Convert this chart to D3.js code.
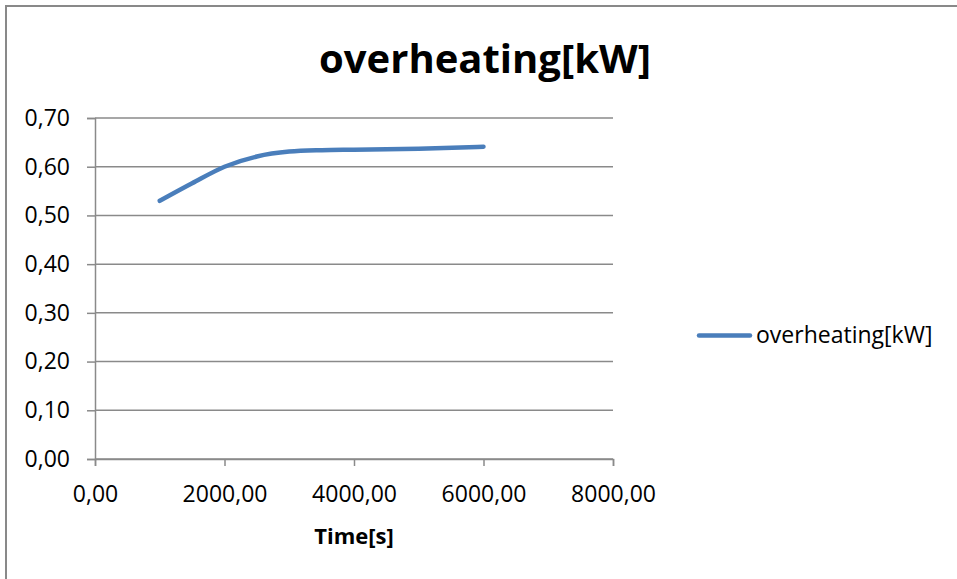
<!DOCTYPE html>
<html><head><meta charset="utf-8">
<script src="https://cdn.jsdelivr.net/npm/d3@7"></script>
<style>html,body{margin:0;padding:0;background:#fff;}svg{display:block;}</style>
</head><body>
<svg id="chart" width="957" height="579"></svg>
<script>
const times = [1000, 1500, 2000, 2500, 3000, 3500, 4000, 5000, 6000];
const overheating = [0.53, 0.566, 0.60, 0.621, 0.631, 0.634, 0.635, 0.637, 0.641];
const yTicks = [0, 0.1, 0.2, 0.3, 0.4, 0.5, 0.6, 0.7];
const xTicks = [0, 2000, 4000, 6000, 8000];
const seriesName = "overheating[kW]";
const chartTitle = "overheating[kW]";
const xTitle = "Time[s]";

const svg = d3.select("#chart");
const font = "'Open Sans', 'Noto Sans', sans-serif";
const fmt = v => d3.format(".2f")(v).replace(".", ",");

const x = d3.scaleLinear().domain([0, 8000]).range([95, 613]);
const y = d3.scaleLinear().domain([0, 0.7]).range([459, 118]);

svg.append("rect").attr("x", 6).attr("y", 6).attr("width", 960).attr("height", 590)
  .attr("fill", "#fff").attr("stroke", "#898989").attr("stroke-width", 2);

// gridlines
svg.append("g").selectAll("line").data(yTicks).join("line")
  .attr("x1", x(0)).attr("x2", x(8000))
  .attr("y1", d => y(d)).attr("y2", d => y(d))
  .attr("stroke", "#8a8a8a").attr("stroke-width", 1.5);

// y axis
const yAxis = svg.append("g").attr("transform", `translate(${x(0)},0)`)
  .call(d3.axisLeft(y).tickValues(yTicks).tickFormat(fmt).tickSize(8).tickPadding(17));
yAxis.select(".domain").attr("stroke", "#8a8a8a").attr("stroke-width", 1.5);
yAxis.selectAll(".tick line").attr("stroke", "#8a8a8a").attr("stroke-width", 1.5);
yAxis.selectAll("text").attr("font-family", font).attr("font-size", 23).attr("fill", "#000");

// x axis
const xAxis = svg.append("g").attr("transform", `translate(0,${y(0)})`)
  .call(d3.axisBottom(x).tickValues(xTicks).tickFormat(fmt).tickSize(7).tickPadding(20));
xAxis.select(".domain").attr("stroke", "#8a8a8a").attr("stroke-width", 1.5);
xAxis.selectAll(".tick line").attr("stroke", "#8a8a8a").attr("stroke-width", 1.5);
xAxis.selectAll("text").attr("font-family", font).attr("font-size", 23).attr("fill", "#000");

// line
const data = times.map((t, i) => ({t, v: overheating[i]}));
svg.append("path").datum(data)
  .attr("d", d3.line().x(d => x(d.t)).y(d => y(d.v)).curve(d3.curveMonotoneX))
  .attr("fill", "none").attr("stroke", "#4a7ebb").attr("stroke-width", 4.5)
  .attr("stroke-linecap", "round").attr("stroke-linejoin", "round");

// title
svg.append("text").attr("x", 485).attr("y", 73).attr("text-anchor", "middle")
  .attr("font-family", font).attr("font-weight", "bold").attr("font-size", 40)
  .text(chartTitle);

// x title
svg.append("text").attr("x", 354).attr("y", 544).attr("text-anchor", "middle")
  .attr("font-family", font).attr("font-weight", "bold").attr("font-size", 22)
  .text(xTitle);

// legend
svg.append("line").attr("x1", 699).attr("x2", 750).attr("y1", 335.5).attr("y2", 335.5)
  .attr("stroke", "#4a7ebb").attr("stroke-width", 4.5).attr("stroke-linecap", "round");
svg.append("text").attr("x", 756).attr("y", 343).attr("font-family", font).attr("font-size", 23)
  .text(seriesName);
</script>
</body></html>
